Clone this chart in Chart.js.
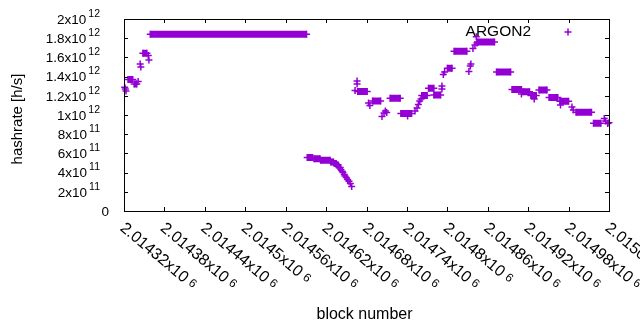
<!DOCTYPE html>
<html>
<head>
<meta charset="utf-8">
<script src="https://cdn.jsdelivr.net/npm/chart.js@4.4.1/dist/chart.umd.min.js"></script>
<style>
  html, body { margin: 0; padding: 0; background: #fff; }
  #wrap { width: 640px; height: 330px; }
</style>
</head>
<body>
<div id="wrap"><canvas id="chart" width="640" height="330"></canvas></div>
<script>
// runs of blocks with the same hashrate (a single point has start == end)
const runStart = [
  2014321, 2014322, 2014323, 2014326, 2014335, 2014341, 2014344, 2014345, 2014348, 2014356,
  2014357, 2014359, 2014592, 2014602, 2014612, 2014627, 2014632, 2014636, 2014639, 2014642,
  2014644, 2014645, 2014647, 2014648, 2014650, 2014652, 2014654, 2014656, 2014658, 2014663,
  2014666, 2014666, 2014667, 2014683, 2014685, 2014689, 2014703, 2014706, 2014708, 2014710,
  2014715, 2014731, 2014741, 2014752, 2014755, 2014757, 2014759, 2014761, 2014762, 2014772,
  2014780, 2014792, 2014792, 2014794, 2014796, 2014800, 2014810, 2014832, 2014834, 2014835,
  2014838, 2014841, 2014843, 2014844, 2014845, 2014873, 2014896, 2014910, 2014912, 2014924,
  2014929, 2014936, 2014951, 2014967, 2014968, 2014985, 2014987, 2014991, 2015017, 2015033,
  2015035, 2015038, 2015040
];
const runEnd = [
  2014321, 2014322, 2014323, 2014333, 2014339, 2014341, 2014344, 2014345, 2014354, 2014356,
  2014357, 2014591, 2014600, 2014611, 2014626, 2014631, 2014635, 2014638, 2014641, 2014642,
  2014644, 2014645, 2014647, 2014648, 2014650, 2014652, 2014654, 2014656, 2014658, 2014663,
  2014666, 2014666, 2014681, 2014683, 2014685, 2014701, 2014703, 2014706, 2014708, 2014710,
  2014730, 2014747, 2014741, 2014752, 2014755, 2014757, 2014759, 2014761, 2014770, 2014780,
  2014790, 2014792, 2014792, 2014794, 2014796, 2014807, 2014829, 2014832, 2014834, 2014835,
  2014838, 2014841, 2014843, 2014844, 2014870, 2014894, 2014910, 2014910, 2014922, 2014932,
  2014929, 2014948, 2014964, 2014980, 2014968, 2014985, 2014987, 2015014, 2015028, 2015033,
  2015035, 2015038, 2015040
];
const runHash = [
  1.29e12, 1.27e12, 1.25e12, 1.37e12, 1.323e12, 1.349e12, 1.531e12, 1.50e12, 1.643e12, 1.62e12,
  1.573e12, 1.841e12, 0.557e12, 0.545e12, 0.528e12, 0.51e12, 0.495e12, 0.479e12, 0.453e12, 0.432e12,
  0.415e12, 0.40e12, 0.38e12, 0.365e12, 0.349e12, 0.328e12, 0.31e12, 0.286e12, 0.255e12, 1.255e12,
  1.354e12, 1.323e12, 1.245e12, 1.125e12, 1.099e12, 1.146e12, 0.984e12, 1.021e12, 1.042e12, 1.026e12,
  1.174e12, 1.016e12, 0.99e12, 1.042e12, 1.073e12, 1.109e12, 1.146e12, 1.167e12, 1.203e12, 1.278e12,
  1.208e12, 1.302e12, 1.271e12, 1.422e12, 1.448e12, 1.486e12, 1.664e12, 1.453e12, 1.51e12, 1.531e12,
  1.693e12, 1.729e12, 1.816e12, 1.75e12, 1.76e12, 1.448e12, 1.266e12, 1.219e12, 1.243e12, 1.203e12,
  1.167e12, 1.26e12, 1.182e12, 1.143e12, 1.104e12, 1.083e12, 1.052e12, 1.028e12, 0.914e12, 0.964e12,
  0.9375e12, 0.911e12, 0.92e12
];

// ticks
const xTicks = [2014320, 2014380, 2014440, 2014500, 2014560, 2014620, 2014680,
                2014740, 2014800, 2014860, 2014920, 2014980, 2015040];
const xTickLabels = ['2.01432x10', '2.01438x10', '2.01444x10', '2.0145x10', '2.01456x10', '2.01462x10',
                     '2.01468x10', '2.01474x10', '2.0148x10', '2.01486x10', '2.01492x10', '2.01498x10', '2.01504x10'];
const xTickExp = '6';
const yTicks = [0, 2e11, 4e11, 6e11, 8e11, 1e12, 1.2e12, 1.4e12, 1.6e12, 1.8e12, 2e12];
const yTickLabels = ['0', '2x10', '4x10', '6x10', '8x10', '1x10', '1.2x10', '1.4x10', '1.6x10', '1.8x10', '2x10'];
const yTickExps = ['', '11', '11', '11', '11', '12', '12', '12', '12', '12', '12'];

const seriesName = 'ARGON2';
const purple = '#9400d3';
const FONT = '"Liberation Sans", Arial, sans-serif';

// build line data: each run is a segment, broken by a null point
const points = [];
for (let i = 0; i < runStart.length; i++) {
    points.push({ x: runStart[i], y: runHash[i] });
    if (runEnd[i] !== runStart[i]) points.push({ x: runEnd[i], y: runHash[i] });
    points.push({ x: runEnd[i], y: null });
}

function drawPlus(ctx, x, y, r) {
    ctx.beginPath();
    ctx.moveTo(x - r, y); ctx.lineTo(x + r, y);
    ctx.moveTo(x, y - r); ctx.lineTo(x, y + r);
    ctx.stroke();
}

// gnuplot style frame, inward ticks, labels and key
const frame = {
    id: 'frame',
    afterDraw(chart) {
        const ctx = chart.ctx;
        const a = chart.chartArea;
        const xs = chart.scales.x, ys = chart.scales.y;
        ctx.save();
        ctx.strokeStyle = '#000';
        ctx.lineWidth = 1;
        ctx.strokeRect(Math.round(a.left) + 0.5, Math.round(a.top) + 0.5,
                       Math.round(a.right - a.left), Math.round(a.bottom - a.top));
        ctx.beginPath();
        xTicks.forEach(v => {
            const px = Math.round(xs.getPixelForValue(v)) + 0.5;
            ctx.moveTo(px, a.bottom); ctx.lineTo(px, a.bottom - 4);
            ctx.moveTo(px, a.top); ctx.lineTo(px, a.top + 4);
        });
        yTicks.forEach(v => {
            const py = Math.round(ys.getPixelForValue(v)) + 0.5;
            ctx.moveTo(a.left, py); ctx.lineTo(a.left + 4, py);
            ctx.moveTo(a.right, py); ctx.lineTo(a.right - 4, py);
        });
        ctx.stroke();

        ctx.fillStyle = '#000';
        // y tick labels
        ctx.textBaseline = 'middle';
        yTicks.forEach((v, i) => {
            const py = ys.getPixelForValue(v);
            if (yTickExps[i]) {
                ctx.font = '10.5px ' + FONT;
                ctx.textAlign = 'right';
                ctx.fillText(yTickExps[i], a.left - 24, py - 5);
                const ew = ctx.measureText(yTickExps[i]).width;
                ctx.font = '13.5px ' + FONT;
                ctx.fillText(yTickLabels[i], a.left - 26 - ew, py + 1);
            } else {
                ctx.font = '13.5px ' + FONT;
                ctx.textAlign = 'right';
                ctx.fillText(yTickLabels[i], a.left - 15, py + 1);
            }
        });
        // x tick labels, rotated down to the right
        xTicks.forEach((v, i) => {
            const px = xs.getPixelForValue(v);
            ctx.save();
            ctx.translate(px - 2, a.bottom + 15);
            ctx.rotate(40 * Math.PI / 180);
            ctx.textAlign = 'left';
            ctx.font = '16px ' + FONT;
            ctx.fillText(xTickLabels[i], 0, 0);
            const w = ctx.measureText(xTickLabels[i]).width;
            ctx.font = '12px ' + FONT;
            ctx.fillText(xTickExp, w + 4, -1);
            ctx.restore();
        });
        // axis titles
        ctx.font = '16px ' + FONT;
        ctx.textAlign = 'center';
        ctx.fillText('block number', (a.left + a.right) / 2 - 2, 315);
        ctx.font = '15px ' + FONT;
        ctx.save();
        ctx.translate(18, (a.top + a.bottom) / 2 + 4);
        ctx.rotate(-Math.PI / 2);
        ctx.fillText('hashrate [h/s]', 0, 0);
        ctx.restore();
        // key
        ctx.font = '15.5px ' + FONT;
        ctx.textAlign = 'right';
        ctx.fillText(seriesName, a.right - 78, a.top + 13);
        ctx.strokeStyle = purple;
        ctx.lineWidth = 1.5;
        drawPlus(ctx, a.right - 41, a.top + 13, 3.5);
        ctx.restore();
    }
};

new Chart(document.getElementById('chart'), {
    type: 'line',
    data: {
        datasets: [{
            label: seriesName,
            data: points,
            borderColor: purple,
            backgroundColor: purple,
            borderWidth: 7,
            borderCapStyle: 'butt',
            tension: 0,
            spanGaps: false,
            pointStyle: 'cross',
            pointRadius: 3.5,
            pointBorderWidth: 1.5,
            pointBorderColor: purple,
            pointBackgroundColor: purple,
            clip: 8
        }]
    },
    options: {
        responsive: false,
        animation: false,
        layout: { padding: { left: 124, right: 31, top: 19, bottom: 119 } },
        scales: {
            x: { type: 'linear', display: false, min: 2014320, max: 2015040 },
            y: { type: 'linear', display: false, min: 0, max: 2e12 }
        },
        plugins: {
            legend: { display: false },
            tooltip: { enabled: false }
        }
    },
    plugins: [frame]
});
</script>
</body>
</html>
